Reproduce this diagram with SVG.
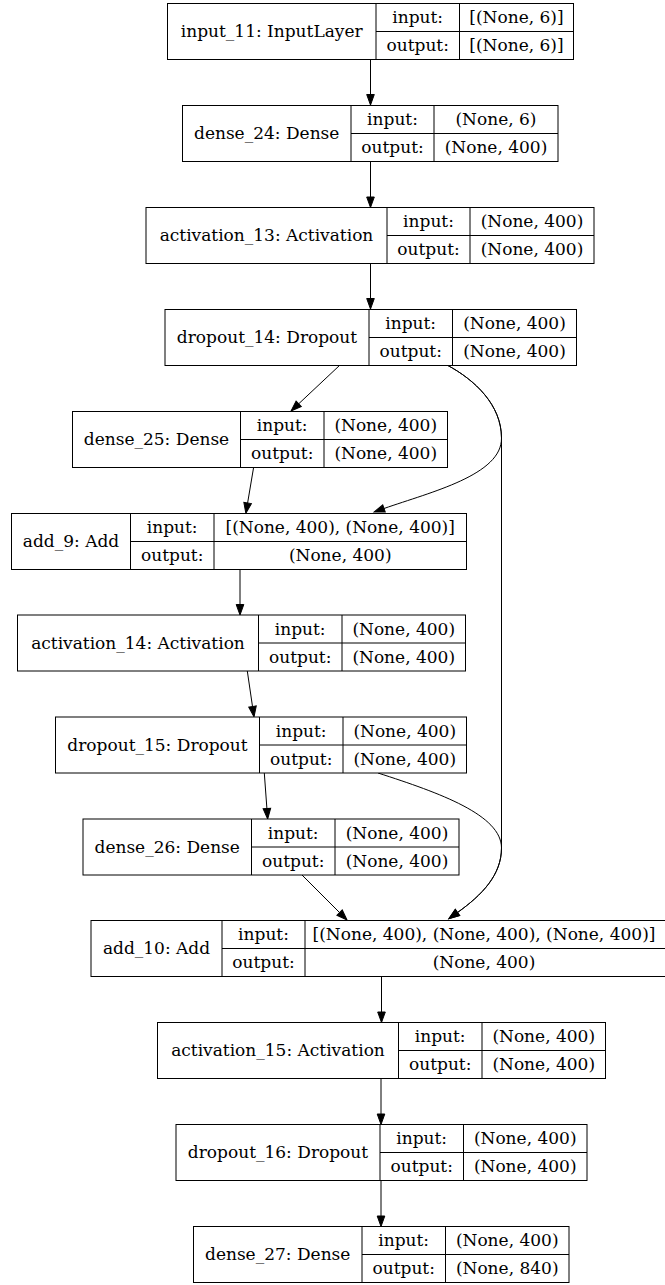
<svg xmlns="http://www.w3.org/2000/svg" width="665" height="1285" viewBox="0 0 665 1285" font-family="'DejaVu Serif', 'Liberation Serif', serif" font-size="17">
<defs>
<style>
.box{fill:#fff;stroke:#000;stroke-width:1}
.ln{stroke:#000;stroke-width:1;fill:none}
text{fill:#000;text-anchor:middle}
.edge{stroke:#000;stroke-width:1;fill:none;marker-end:url(#arr)}
</style>
<marker id="arr" markerUnits="userSpaceOnUse" markerWidth="12" markerHeight="10" refX="0" refY="4" orient="auto" overflow="visible">
<path d="M0,0.2 L10.5,4 L0,7.8 z" fill="#000" stroke="#000" stroke-width="1"/>
</marker>
</defs>
<rect width="665" height="1285" fill="#fff"/>

<g id="connectors">
<path class="edge" d="M370.5,60 L370.5,94.5"/>
<path class="edge" d="M370.5,162 L370.5,197"/>
<path class="edge" d="M370.5,263.5 L370.5,298.5"/>
<path class="edge" d="M340,365 L298.7,403.8"/>
<path class="edge" d="M447,365 C475,380 501.5,405 501.5,438 C502,475 431,492 384,508.5"/>
<path class="edge" d="M447,365 C475,380 501.5,405 501.5,438 L501.5,848 C501.5,875 482,895 457.5,912.5"/>
<path class="edge" d="M253.5,468 L247.6,503"/>
<path class="edge" d="M240,570 L240,604.5"/>
<path class="edge" d="M247.3,671 L252.5,706.5"/>
<path class="edge" d="M264.3,773 L266.9,808.5"/>
<path class="edge" d="M378,773 C440,793 501.5,815 501.5,848 C501.5,875 482,895 457.5,912.5"/>
<path class="edge" d="M302,875 L339.6,912.6"/>
<path class="edge" d="M381.5,977 L381.5,1012"/>
<path class="edge" d="M381,1079 L381,1114"/>
<path class="edge" d="M381,1181 L381,1216"/>
</g>

<g id="input_11">
<rect class="box" x="167.5" y="3.5" width="406" height="56"/>
<path class="ln" d="M376,3.5V59.5M459.5,3.5V59.5M376,31.5H573.5"/>
<text x="271.7" y="37">input_11: InputLayer</text>
<text x="417.7" y="23">input:</text>
<text x="417.7" y="51">output:</text>
<text x="516.5" y="23">[(None, 6)]</text>
<text x="516.5" y="51">[(None, 6)]</text>
</g>

<g id="dense_24">
<rect class="box" x="182.5" y="105.5" width="375.5" height="56"/>
<path class="ln" d="M351,105.5V161.5M434,105.5V161.5M351,133.5H558"/>
<text x="266.7" y="139">dense_24: Dense</text>
<text x="392.5" y="125">input:</text>
<text x="392.5" y="153">output:</text>
<text x="496" y="125">(None, 6)</text>
<text x="496" y="153">(None, 400)</text>
</g>

<g id="activation_13">
<rect class="box" x="146" y="207.5" width="448" height="56"/>
<path class="ln" d="M387,207.5V263.5M470,207.5V263.5M387,235.5H594"/>
<text x="266.5" y="241">activation_13: Activation</text>
<text x="428.5" y="227">input:</text>
<text x="428.5" y="255">output:</text>
<text x="532" y="227">(None, 400)</text>
<text x="532" y="255">(None, 400)</text>
</g>

<g id="dropout_14">
<rect class="box" x="165" y="309.5" width="411.5" height="56"/>
<path class="ln" d="M369,309.5V365.5M452.5,309.5V365.5M369,337.5H576.5"/>
<text x="267" y="343">dropout_14: Dropout</text>
<text x="410.7" y="329">input:</text>
<text x="410.7" y="357">output:</text>
<text x="514.5" y="329">(None, 400)</text>
<text x="514.5" y="357">(None, 400)</text>
</g>

<g id="dense_25">
<rect class="box" x="72.5" y="411.5" width="375" height="56"/>
<path class="ln" d="M240.5,411.5V467.5M324,411.5V467.5M240.5,439.5H447.5"/>
<text x="156.5" y="445">dense_25: Dense</text>
<text x="282.2" y="431">input:</text>
<text x="282.2" y="459">output:</text>
<text x="385.7" y="431">(None, 400)</text>
<text x="385.7" y="459">(None, 400)</text>
</g>

<g id="add_9">
<rect class="box" x="11.5" y="513.5" width="455" height="56"/>
<path class="ln" d="M130.5,513.5V569.5M214,513.5V569.5M130.5,541.5H466.5"/>
<text x="71" y="547">add_9: Add</text>
<text x="172.2" y="533">input:</text>
<text x="172.2" y="561">output:</text>
<text x="340.2" y="533">[(None, 400), (None, 400)]</text>
<text x="340.2" y="561">(None, 400)</text>
</g>

<g id="activation_14">
<rect class="box" x="17.5" y="615" width="448" height="56"/>
<path class="ln" d="M258.5,615V671M342,615V671M258.5,643H465.5"/>
<text x="138" y="648.5">activation_14: Activation</text>
<text x="300.2" y="634.5">input:</text>
<text x="300.2" y="662.5">output:</text>
<text x="403.7" y="634.5">(None, 400)</text>
<text x="403.7" y="662.5">(None, 400)</text>
</g>

<g id="dropout_15">
<rect class="box" x="55.5" y="717" width="411" height="56"/>
<path class="ln" d="M259.5,717V773M343,717V773M259.5,745H466.5"/>
<text x="157.5" y="750.5">dropout_15: Dropout</text>
<text x="301.2" y="736.5">input:</text>
<text x="301.2" y="764.5">output:</text>
<text x="404.7" y="736.5">(None, 400)</text>
<text x="404.7" y="764.5">(None, 400)</text>
</g>

<g id="dense_26">
<rect class="box" x="83" y="819" width="376" height="56"/>
<path class="ln" d="M251.5,819V875M335,819V875M251.5,847H459"/>
<text x="167.2" y="852.5">dense_26: Dense</text>
<text x="293.2" y="838.5">input:</text>
<text x="293.2" y="866.5">output:</text>
<text x="397" y="838.5">(None, 400)</text>
<text x="397" y="866.5">(None, 400)</text>
</g>

<g id="add_10">
<rect class="box" x="91" y="920.5" width="575" height="56"/>
<path class="ln" d="M222,920.5V976.5M305,920.5V976.5M222,948.5H666"/>
<text x="156.5" y="954">add_10: Add</text>
<text x="263.5" y="940">input:</text>
<text x="263.5" y="968">output:</text>
<text x="484" y="940">[(None, 400), (None, 400), (None, 400)]</text>
<text x="484" y="968">(None, 400)</text>
</g>

<g id="activation_15">
<rect class="box" x="157.5" y="1022.5" width="448" height="56"/>
<path class="ln" d="M398.5,1022.5V1078.5M482,1022.5V1078.5M398.5,1050.5H605.5"/>
<text x="278" y="1056">activation_15: Activation</text>
<text x="440.2" y="1042">input:</text>
<text x="440.2" y="1070">output:</text>
<text x="543.7" y="1042">(None, 400)</text>
<text x="543.7" y="1070">(None, 400)</text>
</g>

<g id="dropout_16">
<rect class="box" x="176" y="1124.5" width="411" height="56"/>
<path class="ln" d="M380,1124.5V1180.5M463.5,1124.5V1180.5M380,1152.5H587"/>
<text x="278" y="1158">dropout_16: Dropout</text>
<text x="421.7" y="1144">input:</text>
<text x="421.7" y="1172">output:</text>
<text x="525.2" y="1144">(None, 400)</text>
<text x="525.2" y="1172">(None, 400)</text>
</g>

<g id="dense_27">
<rect class="box" x="193.5" y="1226.5" width="375.5" height="56"/>
<path class="ln" d="M362,1226.5V1282.5M445.5,1226.5V1282.5M362,1254.5H569"/>
<text x="277.7" y="1260">dense_27: Dense</text>
<text x="403.7" y="1246">input:</text>
<text x="403.7" y="1274">output:</text>
<text x="507.2" y="1246">(None, 400)</text>
<text x="507.2" y="1274">(None, 840)</text>
</g>
</svg>
